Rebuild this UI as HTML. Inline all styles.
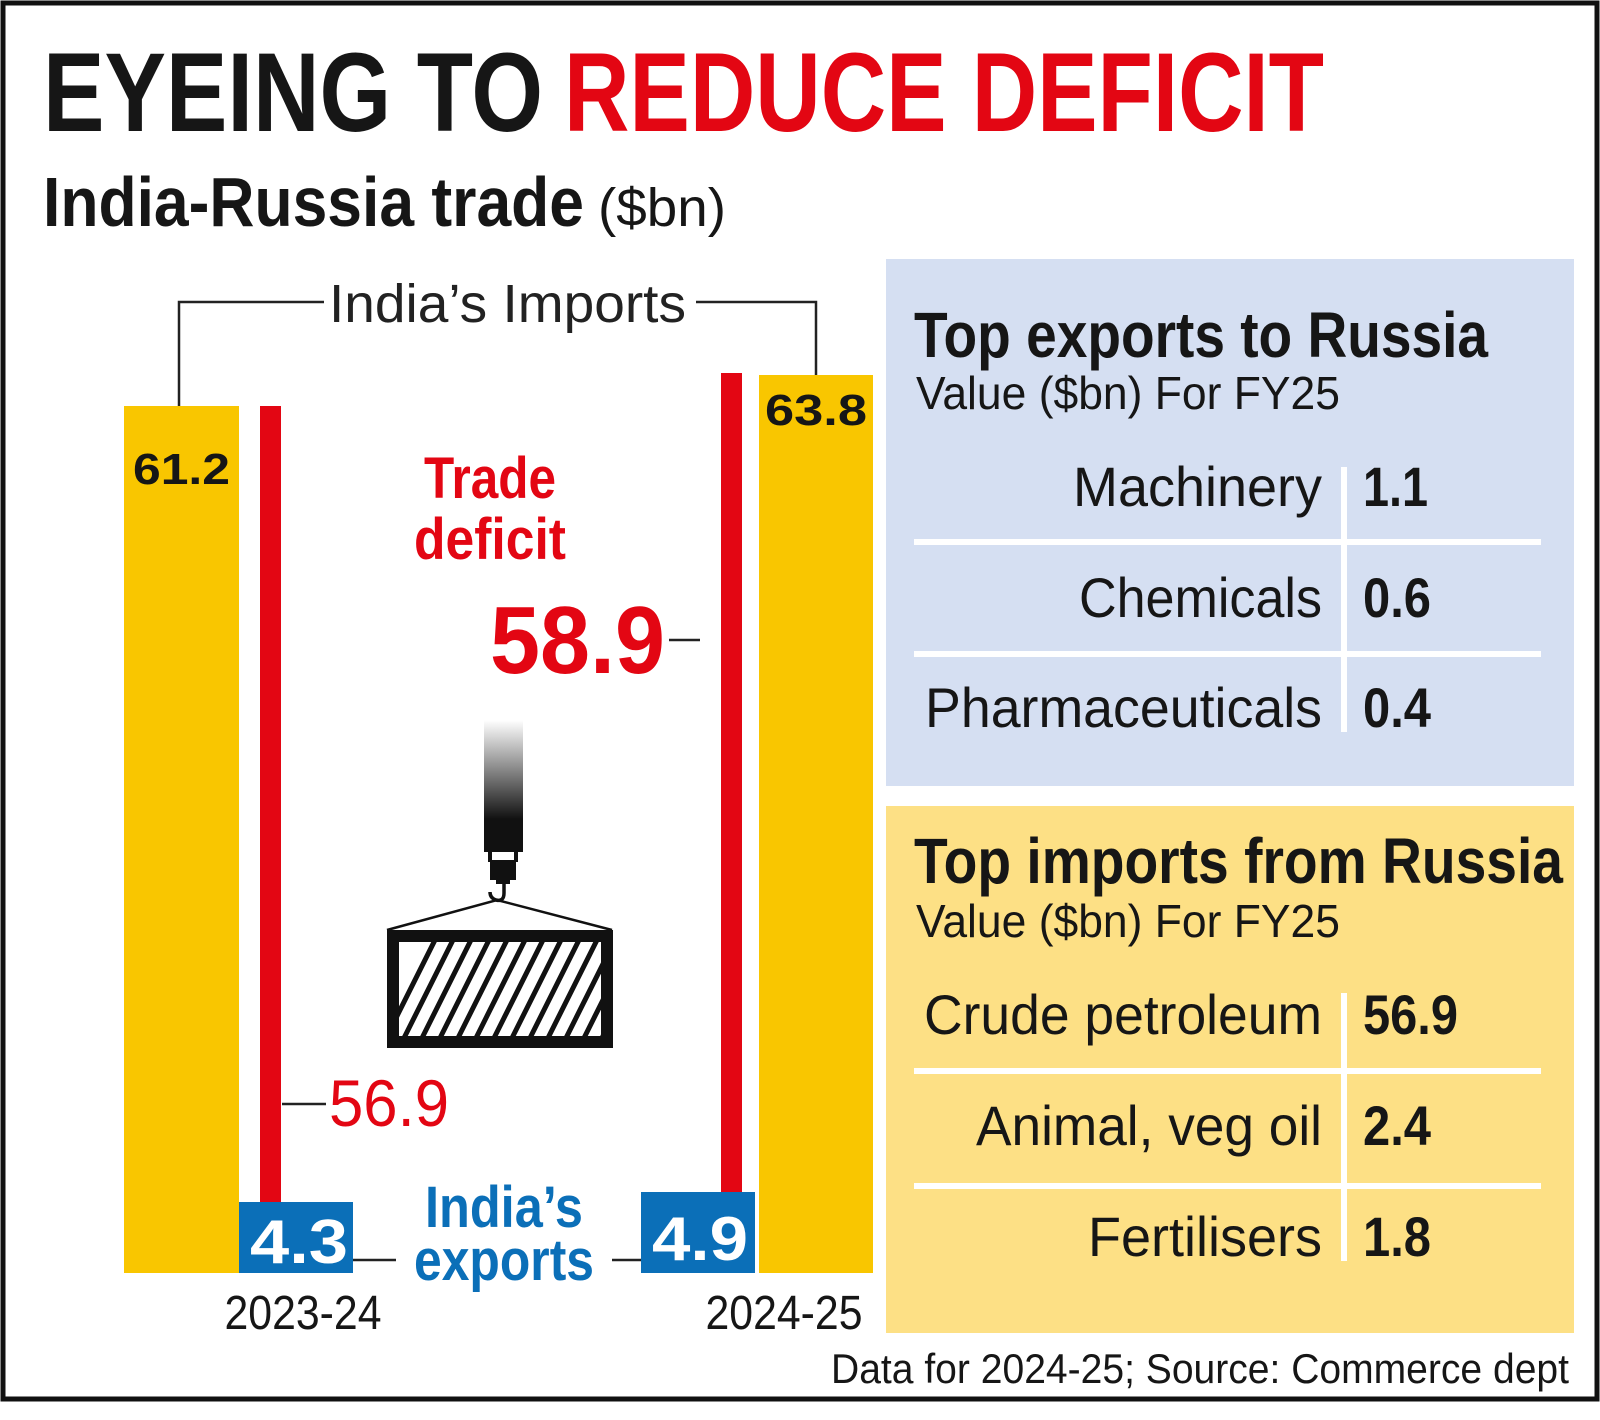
<!DOCTYPE html>
<html><head><meta charset="utf-8"><style>
html,body{margin:0;padding:0;background:#fff}
svg{display:block}
text{font-family:"Liberation Sans",sans-serif}
.b{font-weight:bold}
</style></head><body>
<svg width="1600" height="1420" viewBox="0 0 1600 1420" xmlns="http://www.w3.org/2000/svg">
<rect x="0" y="0" width="1600" height="1420" fill="#fff"/>
<rect x="3" y="3" width="1594" height="1396" fill="none" stroke="#111" stroke-width="5"/>

<!-- Title -->
<text x="43" y="131" class="b" font-size="112" fill="#161616" textLength="500" lengthAdjust="spacingAndGlyphs">EYEING TO</text>
<text x="564" y="131" class="b" font-size="112" fill="#e30613" textLength="760" lengthAdjust="spacingAndGlyphs">REDUCE DEFICIT</text>
<text x="43" y="226" class="b" font-size="70" fill="#161616" textLength="541" lengthAdjust="spacingAndGlyphs">India-Russia trade</text>
<text x="598" y="226" font-size="54" fill="#161616" textLength="128" lengthAdjust="spacingAndGlyphs">($bn)</text>

<!-- bracket -->
<polyline points="179,406 179,302 324,302" fill="none" stroke="#222" stroke-width="2.5"/>
<polyline points="696,302 816,302 816,375" fill="none" stroke="#222" stroke-width="2.5"/>
<text x="329" y="322" font-size="54" fill="#222" textLength="357" lengthAdjust="spacingAndGlyphs">India’s Imports</text>

<!-- bars -->
<rect x="124" y="406" width="115" height="867" fill="#f9c600"/>
<rect x="260" y="406" width="21" height="796" fill="#e30613"/>
<rect x="239" y="1202" width="114" height="71" fill="#0b6fb8"/>
<rect x="721" y="373" width="21" height="819" fill="#e30613"/>
<rect x="641" y="1192" width="114" height="81" fill="#0b6fb8"/>
<rect x="759" y="375" width="114" height="898" fill="#f9c600"/>

<text x="133" y="484" class="b" font-size="44" fill="#161616" textLength="97" lengthAdjust="spacingAndGlyphs">61.2</text>
<text x="765" y="425" class="b" font-size="44" fill="#161616" textLength="102" lengthAdjust="spacingAndGlyphs">63.8</text>
<text x="250" y="1263" class="b" font-size="62" fill="#fff" textLength="98" lengthAdjust="spacingAndGlyphs">4.3</text>
<text x="652" y="1260" class="b" font-size="62" fill="#fff" textLength="96" lengthAdjust="spacingAndGlyphs">4.9</text>

<!-- trade deficit -->
<text x="490" y="498" class="b" font-size="58" fill="#e30613" text-anchor="middle" textLength="132" lengthAdjust="spacingAndGlyphs">Trade</text>
<text x="490" y="559" class="b" font-size="58" fill="#e30613" text-anchor="middle" textLength="152" lengthAdjust="spacingAndGlyphs">deficit</text>
<text x="490" y="673" class="b" font-size="96" fill="#e30613" textLength="175" lengthAdjust="spacingAndGlyphs">58.9</text>
<line x1="669" y1="640" x2="700" y2="640" stroke="#222" stroke-width="2.5"/>

<text x="329" y="1126" font-size="66" fill="#e30613" textLength="120" lengthAdjust="spacingAndGlyphs">56.9</text>
<line x1="282" y1="1104" x2="326" y2="1104" stroke="#222" stroke-width="2.5"/>

<!-- India's exports -->
<text x="504" y="1227" class="b" font-size="58" fill="#0b6fb8" text-anchor="middle" textLength="158" lengthAdjust="spacingAndGlyphs">India’s</text>
<text x="504" y="1280" class="b" font-size="58" fill="#0b6fb8" text-anchor="middle" textLength="180" lengthAdjust="spacingAndGlyphs">exports</text>
<line x1="353" y1="1260" x2="396" y2="1260" stroke="#222" stroke-width="2.5"/>
<line x1="612" y1="1260" x2="641" y2="1260" stroke="#222" stroke-width="2.5"/>

<text x="303" y="1329" font-size="48" fill="#161616" text-anchor="middle" textLength="157" lengthAdjust="spacingAndGlyphs">2023-24</text>
<text x="784" y="1329" font-size="48" fill="#161616" text-anchor="middle" textLength="157" lengthAdjust="spacingAndGlyphs">2024-25</text>

<!-- crane + container -->
<defs><linearGradient id="g" x1="0" y1="0" x2="0" y2="1">
<stop offset="0" stop-color="#fff"/><stop offset="0.75" stop-color="#111"/><stop offset="1" stop-color="#111"/></linearGradient></defs>
<rect x="484" y="720" width="39" height="132" fill="url(#g)"/>
<rect x="488" y="852" width="4" height="10" fill="#111"/><rect x="514" y="852" width="4" height="10" fill="#111"/>
<rect x="490" y="860" width="26" height="20" fill="#111"/>
<rect x="496" y="878" width="14" height="6" fill="#111"/>
<path d="M504 884 L504 893 Q504 902 496 900 Q490 898 490 892" fill="none" stroke="#111" stroke-width="3.5"/>
<polyline points="387,930 497,900 612,930" fill="none" stroke="#111" stroke-width="2.5"/>
<rect x="393" y="936" width="214" height="106" fill="none" stroke="#111" stroke-width="12"/>
<clipPath id="c"><rect x="399" y="942" width="202" height="94"/></clipPath>
<g clip-path="url(#c)" stroke="#111" stroke-width="5">
<line x1="380" y1="1050" x2="440" y2="930"/><line x1="398" y1="1050" x2="458" y2="930"/>
<line x1="416" y1="1050" x2="476" y2="930"/><line x1="434" y1="1050" x2="494" y2="930"/>
<line x1="452" y1="1050" x2="512" y2="930"/><line x1="470" y1="1050" x2="530" y2="930"/>
<line x1="488" y1="1050" x2="548" y2="930"/><line x1="506" y1="1050" x2="566" y2="930"/>
<line x1="524" y1="1050" x2="584" y2="930"/><line x1="542" y1="1050" x2="602" y2="930"/>
<line x1="560" y1="1050" x2="620" y2="930"/><line x1="578" y1="1050" x2="638" y2="930"/>
<line x1="596" y1="1050" x2="656" y2="930"/>
</g>

<!-- exports panel -->
<rect x="886" y="259" width="688" height="527" fill="#d5dff2"/>
<text x="914" y="357" class="b" font-size="64" fill="#161616" textLength="574" lengthAdjust="spacingAndGlyphs">Top exports to Russia</text>
<text x="916" y="409" font-size="46" fill="#161616" textLength="424" lengthAdjust="spacingAndGlyphs">Value ($bn) For FY25</text>
<rect x="914" y="539" width="627" height="6" fill="#fff"/>
<rect x="914" y="651" width="627" height="6" fill="#fff"/>
<rect x="1341" y="467" width="6" height="265" fill="#fff"/>
<text x="1322" y="506" font-size="56" fill="#161616" text-anchor="end" textLength="249" lengthAdjust="spacingAndGlyphs">Machinery</text>
<text x="1322" y="617" font-size="56" fill="#161616" text-anchor="end" textLength="243" lengthAdjust="spacingAndGlyphs">Chemicals</text>
<text x="1322" y="727" font-size="56" fill="#161616" text-anchor="end" textLength="397" lengthAdjust="spacingAndGlyphs">Pharmaceuticals</text>
<text x="1363" y="506" class="b" font-size="56" fill="#161616" textLength="65" lengthAdjust="spacingAndGlyphs">1.1</text>
<text x="1363" y="617" class="b" font-size="56" fill="#161616" textLength="68" lengthAdjust="spacingAndGlyphs">0.6</text>
<text x="1363" y="727" class="b" font-size="56" fill="#161616" textLength="68" lengthAdjust="spacingAndGlyphs">0.4</text>

<!-- imports panel -->
<rect x="886" y="806" width="688" height="527" fill="#fde085"/>
<text x="914" y="883" class="b" font-size="64" fill="#161616" textLength="649" lengthAdjust="spacingAndGlyphs">Top imports from Russia</text>
<text x="916" y="937" font-size="46" fill="#161616" textLength="424" lengthAdjust="spacingAndGlyphs">Value ($bn) For FY25</text>
<rect x="914" y="1068" width="627" height="6" fill="#fff"/>
<rect x="914" y="1183" width="627" height="6" fill="#fff"/>
<rect x="1341" y="993" width="6" height="268" fill="#fff"/>
<text x="1322" y="1034" font-size="56" fill="#161616" text-anchor="end" textLength="398" lengthAdjust="spacingAndGlyphs">Crude petroleum</text>
<text x="1322" y="1145" font-size="56" fill="#161616" text-anchor="end" textLength="346" lengthAdjust="spacingAndGlyphs">Animal, veg oil</text>
<text x="1322" y="1256" font-size="56" fill="#161616" text-anchor="end" textLength="234" lengthAdjust="spacingAndGlyphs">Fertilisers</text>
<text x="1363" y="1034" class="b" font-size="56" fill="#161616" textLength="95" lengthAdjust="spacingAndGlyphs">56.9</text>
<text x="1363" y="1145" class="b" font-size="56" fill="#161616" textLength="68" lengthAdjust="spacingAndGlyphs">2.4</text>
<text x="1363" y="1256" class="b" font-size="56" fill="#161616" textLength="68" lengthAdjust="spacingAndGlyphs">1.8</text>

<text x="1569" y="1383" font-size="42" fill="#161616" text-anchor="end" textLength="738" lengthAdjust="spacingAndGlyphs">Data for 2024-25; Source: Commerce dept</text>
</svg>
</body></html>
